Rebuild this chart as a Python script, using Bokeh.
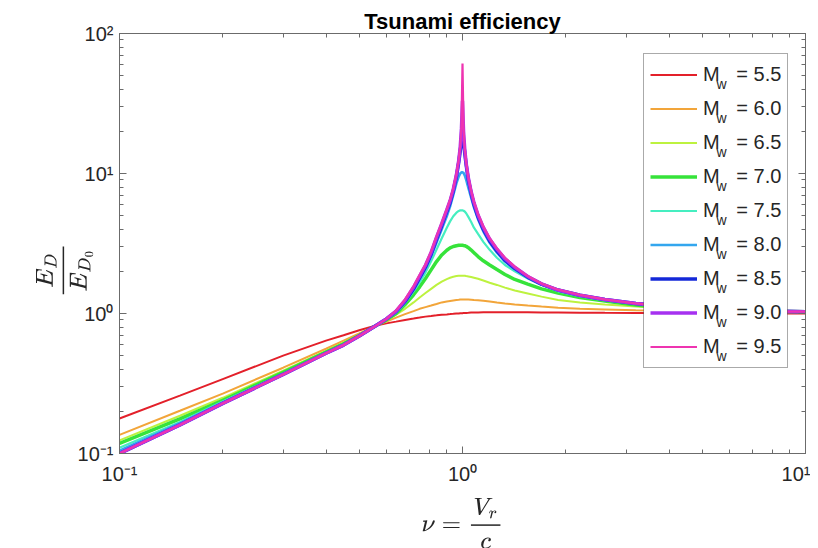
import math
from bokeh.plotting import figure
from bokeh.models import (LogAxis, FixedTicker, Legend, LegendItem,
                          CustomJSTickFormatter, Range1d, ColumnDataSource)
from bokeh.embed import file_html
from bokeh.resources import INLINE
from bokeh.core.properties import value

# ---------------- data ----------------
nu = [0.1, 0.15, 0.2, 0.3, 0.4, 0.45, 0.5, 0.56, 0.6, 0.64, 0.68, 0.72, 0.75, 0.78,
      0.81, 0.84, 0.87, 0.9, 0.92, 0.94, 0.96, 0.975, 0.985, 0.993, 1.0, 1.007,
      1.015, 1.025, 1.04, 1.06, 1.08, 1.11, 1.15, 1.2, 1.26, 1.33, 1.42, 1.55, 1.7,
      1.9, 2.2, 2.6, 3.2, 4.0, 5.5, 7.5, 10.0]

mw_labels = ["5.5", "6.0", "6.5", "7.0", "7.5", "8.0", "8.5", "9.0", "9.5"]

e_55 = [0.178, 0.259, 0.34, 0.50, 0.64, 0.70, 0.76, 0.82, 0.85, 0.875, 0.9,
        0.92, 0.935, 0.95, 0.96, 0.97, 0.98, 0.985, 0.99, 0.995, 1.0,
        1.0, 1.005, 1.005, 1.005, 1.01, 1.01, 1.01, 1.012, 1.015, 1.015,
        1.018, 1.02, 1.02, 1.02, 1.02, 1.02, 1.02, 1.018, 1.016, 1.014,
        1.012, 1.01, 1.008, 1.005, 1.002, 1.0]
e_60 = [0.136, 0.202, 0.268, 0.41, 0.56, 0.64, 0.72, 0.82, 0.875, 0.935, 0.99,
        1.04, 1.08, 1.11, 1.14, 1.17, 1.2, 1.22, 1.23, 1.24, 1.25,
        1.255, 1.26, 1.26, 1.26, 1.26, 1.26, 1.26, 1.26, 1.255, 1.25,
        1.245, 1.235, 1.22, 1.2, 1.18, 1.16, 1.14, 1.12, 1.1, 1.08,
        1.07, 1.055, 1.045, 1.03, 1.02, 1.015]
e_65 = [0.124, 0.186, 0.25, 0.39, 0.54, 0.62, 0.705, 0.82, 0.89, 0.98, 1.08,
        1.2, 1.3, 1.4, 1.5, 1.6, 1.69, 1.76, 1.8, 1.83, 1.85,
        1.86, 1.86, 1.86, 1.86, 1.86, 1.86, 1.85, 1.84, 1.82, 1.8,
        1.77, 1.72, 1.66, 1.6, 1.53, 1.46, 1.39, 1.32, 1.25, 1.2,
        1.16, 1.12, 1.08, 1.05, 1.035, 1.025]
e_70 = [0.118, 0.177, 0.24, 0.38, 0.53, 0.607, 0.697, 0.82, 0.9, 1.0, 1.16,
        1.36, 1.55, 1.78, 2.05, 2.35, 2.62, 2.83, 2.94, 3.01, 3.05,
        3.07, 3.07, 3.07, 3.07, 3.06, 3.05, 3.02, 2.95, 2.84, 2.72,
        2.55, 2.38, 2.22, 2.06, 1.9, 1.75, 1.62, 1.5, 1.4, 1.3,
        1.23, 1.15, 1.1, 1.06, 1.04, 1.03]
e_75 = [0.11, 0.168, 0.235, 0.372, 0.525, 0.6, 0.693, 0.82, 0.91, 1.01, 1.19,
        1.44, 1.67, 1.96, 2.36, 2.86, 3.45, 4.1, 4.55, 4.95, 5.25,
        5.4, 5.45, 5.45, 5.45, 5.42, 5.35, 5.2, 4.9, 4.5, 4.1,
        3.7, 3.25, 2.85, 2.5, 2.22, 2.0, 1.78, 1.6, 1.44, 1.33,
        1.24, 1.17, 1.11, 1.07, 1.04, 1.03]
e_80 = [0.105, 0.165, 0.232, 0.37, 0.522, 0.598, 0.69, 0.82, 0.912, 1.02, 1.2,
        1.47, 1.75, 2.08, 2.55, 3.2, 4.0, 4.95, 5.8, 7.0, 8.5,
        9.5, 10.0, 10.2, 10.2, 10.1, 9.7, 9.0, 7.9, 6.7, 5.7,
        4.7, 3.85, 3.2, 2.72, 2.35, 2.06, 1.8, 1.61, 1.46, 1.34,
        1.25, 1.18, 1.12, 1.07, 1.04, 1.03]
e_85 = [0.1, 0.16, 0.228, 0.367, 0.52, 0.595, 0.69, 0.82, 0.915, 1.03, 1.22,
        1.5, 1.8, 2.15, 2.65, 3.4, 4.25, 5.35, 6.2, 7.5, 9.5,
        12, 14.5, 17, 18, 17, 14, 11.5, 9.0, 7.2, 6.0,
        4.9, 4.0, 3.3, 2.8, 2.4, 2.1, 1.82, 1.62, 1.47, 1.35,
        1.26, 1.18, 1.12, 1.07, 1.04, 1.03]
e_90 = [0.1, 0.16, 0.228, 0.367, 0.52, 0.595, 0.69, 0.82, 0.915, 1.04, 1.24,
        1.54, 1.85, 2.21, 2.73, 3.5, 4.38, 5.5, 6.4, 7.7, 9.8,
        12.4, 15.5, 21, 33, 20, 15, 11.8, 9.3, 7.4, 6.2,
        5.05, 4.12, 3.4, 2.88, 2.46, 2.14, 1.84, 1.63, 1.47, 1.35,
        1.26, 1.18, 1.12, 1.07, 1.04, 1.03]
e_95 = [0.1, 0.16, 0.228, 0.367, 0.52, 0.595, 0.69, 0.82, 0.915, 1.05, 1.26,
        1.57, 1.89, 2.25, 2.78, 3.57, 4.45, 5.6, 6.5, 7.9, 10.0,
        12.6, 15.8, 22, 61, 21, 15.3, 12, 9.45, 7.55, 6.3,
        5.15, 4.2, 3.45, 2.92, 2.5, 2.16, 1.85, 1.64, 1.48, 1.36,
        1.26, 1.18, 1.12, 1.07, 1.04, 1.03]

series = [e_55, e_60, e_65, e_70, e_75, e_80, e_85, e_90, e_95]
colors = ["#e3202a", "#f2a53a", "#bdf23f", "#36e33a", "#45eec0",
          "#33a6ee", "#1428d8", "#a631f0", "#ee34b0"]
widths = [2, 2, 2, 3.5, 2.2, 2.5, 3.5, 3.5, 2.2]

FONT = "Liberation Sans"
AX = "#6b6b6b"
TXT = "#262626"

# frame geometry (pixels)
FL, FT, FW, FH = 119, 33, 686, 420
XDEC = FW / 2.0   # px per decade on x (0.1 .. 10)
YDEC = FH / 3.0   # px per decade on y (0.1 .. 100)


def px_to_data(px, py):
    return (10 ** ((px - FL) / XDEC - 1), 10 ** (-1 + (FT + FH - py) / YDEC))


p = figure(frame_width=FW, frame_height=FH, x_axis_type="log", y_axis_type="log",
           x_range=Range1d(0.1, 10), y_range=Range1d(0.1, 100),
           output_backend="svg", toolbar_location=None,
           min_border_left=FL, min_border_right=5, min_border_top=FT,
           min_border_bottom=88, title="Tsunami efficiency")

p.title.text_font = FONT
p.title.text_font_size = "22px"
p.title.text_font_style = "bold"
p.title.text_color = "#000000"
p.title.align = "center"
p.title.standoff = 0
p.title.offset = 0

p.grid.visible = False
p.outline_line_color = AX
p.background_fill_color = "white"

major = [0.1, 1, 10, 100]
minor = [m * 10.0 ** k for k in range(-1, 2) for m in range(2, 10)]

sup_fmt = CustomJSTickFormatter(code=r"""
const e = Math.round(Math.log10(tick));
const sup = {"-": "\u207b", "0": "\u2070", "1": "\u00b9", "2": "\u00b2", "3": "\u00b3"};
return "10" + String(e).split("").map(c => sup[c]).join("");
""")
empty_fmt = CustomJSTickFormatter(code="return '';")


def style_axis(ax, labels=True):
    ax.ticker = FixedTicker(ticks=major, minor_ticks=minor)
    ax.formatter = sup_fmt if labels else empty_fmt
    ax.axis_line_color = AX
    ax.major_tick_line_color = AX
    ax.minor_tick_line_color = AX
    ax.major_tick_in = 7
    ax.major_tick_out = 0
    ax.minor_tick_in = 4
    ax.minor_tick_out = 0
    ax.major_label_text_font = FONT
    ax.major_label_text_font_size = "20px"
    ax.major_label_text_color = TXT


style_axis(p.xaxis[0])
style_axis(p.yaxis[0])
p.xaxis[0].major_label_standoff = 9
p.yaxis[0].major_label_standoff = 6

p.xaxis[0].axis_label = r"$$\nu = \frac{V_r}{c}$$"
p.xaxis[0].axis_label_text_font_size = "20px"
p.xaxis[0].axis_label_text_color = TXT
p.xaxis[0].axis_label_standoff = 10

p.yaxis[0].axis_label = r"$$\frac{E_D}{E_{D_0}}$$"
p.yaxis[0].axis_label_text_font_size = "20px"
p.yaxis[0].axis_label_text_color = TXT
p.yaxis[0].axis_label_standoff = 10
p.yaxis[0].axis_label_orientation = math.pi / 2

top = LogAxis()
style_axis(top, labels=False)
p.add_layout(top, "above")
right = LogAxis()
style_axis(right, labels=False)
p.add_layout(right, "right")

items = []
for lab, ys, c, w in zip(mw_labels, series, colors, widths):
    r = p.line(nu, ys, line_color=c, line_width=w)
    items.append(LegendItem(label="M   = " + lab, renderers=[r]))

# white panel under the (transparent) legend, drawn above the curves
bl = px_to_data(643.5, 365.5)
tr = px_to_data(786.5, 55.5)
p.quad(left=[bl[0]], right=[tr[0]], bottom=[bl[1]], top=[tr[1]],
       fill_color="white", line_color=None, level="overlay")

legend = Legend(items=items, location=(524, 85),
                label_text_font=FONT, label_text_font_size="20px",
                label_text_color=TXT, glyph_width=47, glyph_height=29,
                label_height=29, spacing=5, padding=6, label_standoff=6,
                border_line_color="#555555", border_line_width=1,
                background_fill_alpha=0.0)
p.add_layout(legend)

# subscript "w" of the legend labels (M_w)
sub_pos = [px_to_data(716, 83 + 34 * i) for i in range(len(mw_labels))]
sub_src = ColumnDataSource(dict(x=[s[0] for s in sub_pos], y=[s[1] for s in sub_pos],
                                t=["w"] * len(mw_labels)))
p.text(x="x", y="y", text="t", source=sub_src, text_font=value(FONT),
       text_font_size="14px", text_color=TXT, text_baseline="middle",
       text_align="left", level="overlay")

open("out.html", "w").write(file_html(p, INLINE))
